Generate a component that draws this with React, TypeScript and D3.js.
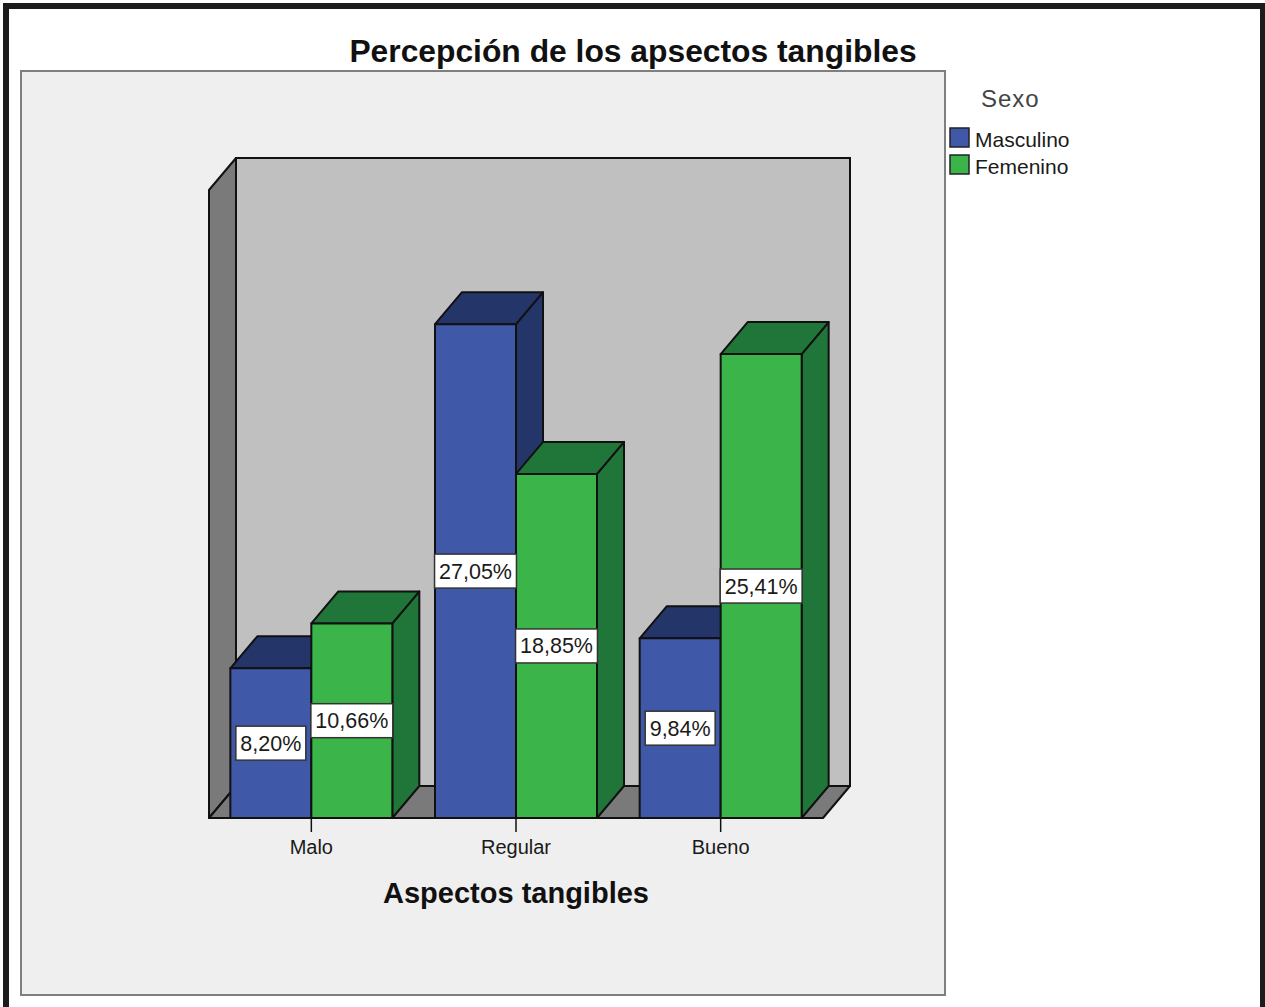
import React from "react";
import * as d3 from "d3";

// Categories, series and values (percentages)
const categories = ["Malo", "Regular", "Bueno"];
const seriesNames = ["Masculino", "Femenino"];
const masculino = [8.2, 27.05, 9.84];
const femenino = [10.66, 18.85, 25.41];
const seriesValues = [masculino, femenino];

const W = 1265;
const H = 1007;

// 3D depth offset of the bars and walls
const DX = 27;
const DY = 32;

const frontLeft = 209;
const frontRight = 823;
const baseY = 818;
const wallTopY = 190;

const faceColors = ["#3f58a8", "#3bb54a"];
const shadeColors = ["#243669", "#207538"];

const FONT = "'Liberation Sans', Arial, sans-serif";

let measureCtx: CanvasRenderingContext2D | null = null;
function textWidth(t: string, font: string) {
  if (!measureCtx) {
    const c = document.createElement("canvas");
    measureCtx = c.getContext("2d");
  }
  if (!measureCtx) return t.length * 11;
  measureCtx.font = font;
  return measureCtx.measureText(t).width;
}

const fmt = (v: number) => v.toFixed(2).replace(".", ",") + "%";

export default function App() {
  const x = d3
    .scaleBand<string>()
    .domain(categories)
    .range([frontLeft, frontRight])
    .paddingInner(0.2085)
    .paddingOuter(0.10425);
  const xs = d3
    .scaleBand<string>()
    .domain(seriesNames)
    .range([0, x.bandwidth()]);
  const y = d3.scaleLinear().domain([0, 34.4]).range([baseY, wallTopY]);

  const stroke = "#111";
  const sw = 2;

  const bars: React.ReactNode[] = [];
  const labels: React.ReactNode[] = [];
  categories.forEach((cat, ci) => {
    seriesNames.forEach((s, si) => {
      const v = seriesValues[si][ci];
      const x0 = (x(cat) as number) + (xs(s) as number);
      const w = xs.bandwidth();
      const x1 = x0 + w;
      const yt = y(v);
      const yb = y(0);
      bars.push(
        <g key={`${cat}-${s}`} stroke={stroke} strokeWidth={sw} strokeLinejoin="round">
          <polygon
            points={`${x1},${yt} ${x1 + DX},${yt - DY} ${x1 + DX},${yb - DY} ${x1},${yb}`}
            fill={shadeColors[si]}
          />
          <polygon
            points={`${x0},${yt} ${x0 + DX},${yt - DY} ${x1 + DX},${yt - DY} ${x1},${yt}`}
            fill={shadeColors[si]}
          />
          <rect x={x0} y={yt} width={w} height={yb - yt} fill={faceColors[si]} />
        </g>
      );
      const txt = fmt(v);
      const fs = 21.5;
      const tw = textWidth(txt, `${fs}px 'Liberation Sans'`);
      const bw = Math.min(tw + 9, w + 1);
      const bh = 34;
      const cx = x0 + w / 2;
      const cy = (yt + yb) / 2;
      labels.push(
        <g key={`lab-${cat}-${s}`}>
          <rect
            x={cx - bw / 2}
            y={cy - bh / 2}
            width={bw}
            height={bh}
            fill="#fff"
            stroke="#333"
            strokeWidth={1.5}
          />
          <text
            x={cx}
            y={cy + 7.5}
            textAnchor="middle"
            fontFamily={FONT}
            fontSize={fs}
            fill="#1a1a1a"
          >
            {txt}
          </text>
        </g>
      );
    });
  });

  const backLeft = frontLeft + DX;
  const backRight = frontRight + DX;

  return (
    <svg
      width={W}
      height={H}
      style={{ position: "absolute", left: 0, top: 0, background: "#fff" }}
    >
      {/* outer frame */}
      <rect x={6} y={6} width={1257} height={1010} fill="#fff" stroke="#1c1c1c" strokeWidth={6} />

      {/* title */}
      <text
        x={633}
        y={62}
        textAnchor="middle"
        fontFamily={FONT}
        fontWeight="bold"
        fontSize={31.8}
        fill="#111"
      >
        Percepción de los apsectos tangibles
      </text>

      {/* plot panel */}
      <rect x={21} y={71} width={924} height={924} fill="#efefef" stroke="#7f7f7f" strokeWidth={2} />

      {/* back wall */}
      <rect
        x={backLeft}
        y={wallTopY - DY}
        width={backRight - backLeft}
        height={baseY - wallTopY}
        fill="#c0c0c0"
        stroke={stroke}
        strokeWidth={sw}
      />
      {/* left wall */}
      <polygon
        points={`${frontLeft},${wallTopY} ${backLeft},${wallTopY - DY} ${backLeft},${baseY - DY} ${frontLeft},${baseY}`}
        fill="#7a7a7a"
        stroke={stroke}
        strokeWidth={sw}
        strokeLinejoin="round"
      />
      {/* floor */}
      <polygon
        points={`${frontLeft},${baseY} ${backLeft},${baseY - DY} ${backRight},${baseY - DY} ${frontRight},${baseY}`}
        fill="#7a7a7a"
        stroke={stroke}
        strokeWidth={sw}
        strokeLinejoin="round"
      />

      {bars}
      {labels}

      {/* category ticks and labels */}
      {categories.map((c) => {
        const cx = (x(c) as number) + x.bandwidth() / 2;
        return (
          <g key={`tick-${c}`}>
            <line x1={cx} x2={cx} y1={baseY} y2={832} stroke={stroke} strokeWidth={1.5} />
            <text
              x={cx}
              y={854}
              textAnchor="middle"
              fontFamily={FONT}
              fontSize={20}
              fill="#1a1a1a"
            >
              {c}
            </text>
          </g>
        );
      })}

      {/* axis title */}
      <text
        x={(frontLeft + frontRight) / 2}
        y={903}
        textAnchor="middle"
        fontFamily={FONT}
        fontWeight="bold"
        fontSize={29}
        fill="#111"
      >
        Aspectos tangibles
      </text>

      {/* legend */}
      <text x={981} y={107} fontFamily={FONT} fontSize={24} letterSpacing={1} fill="#444">
        Sexo
      </text>
      {seriesNames.map((s, i) => (
        <g key={`leg-${s}`}>
          <rect
            x={950}
            y={128 + i * 27}
            width={19}
            height={19}
            fill={faceColors[i]}
            stroke="#222"
            strokeWidth={1.5}
          />
          <text x={975} y={147 + i * 27} fontFamily={FONT} fontSize={21} fill="#1a1a1a">
            {s}
          </text>
        </g>
      ))}
    </svg>
  );
}
